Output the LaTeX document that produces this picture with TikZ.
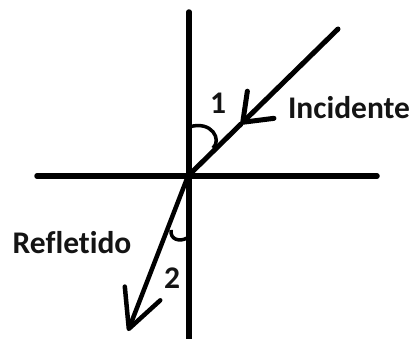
\documentclass[tikz,border=0pt]{standalone}
\usepackage{fontspec}
\setmainfont[Ligatures=NoCommon]{Carlito}
\usetikzlibrary{arrows.meta}
\definecolor{rayink}{HTML}{000000}
\definecolor{lbltext}{HTML}{141414}
\tikzset{
  refline/.style={draw=rayink, line width=5.5pt, line cap=round},
  ray/.style={draw=rayink, line width=5pt, line cap=round},
  angarc/.style={draw=rayink, line width=3.5pt},
  lbl/.style={font=\fontsize{31.5}{36}\selectfont\bfseries, text=lbltext, inner sep=0pt},
}
\begin{document}
\begin{tikzpicture}[x=1pt,y=1pt]
\useasboundingbox (0,0) rectangle (413,338);

% mirror normal and surface
\coordinate (O) at (188,162);
\coordinate (top) at (189,326);
\coordinate (bot) at (189,-6);
\coordinate (west) at (37,162);
\coordinate (east) at (377,162);
\draw[refline] (top) -- (bot);
\draw[refline] (west) -- (east);

% incident ray, arrow part way
\coordinate (src) at (338,309);
\coordinate (hitI) at (241,214);
\draw[ray,-{Straight Barb[round,length=25pt,width=38pt]}] (src) -- (hitI);
\draw[ray] (hitI) -- (O);

% reflected ray
\coordinate (dst) at (128,7);
\draw[ray,line width=4.5pt,-{Straight Barb[round,length=38pt,width=38pt]}] (O) -- (dst);

% angle marks
\draw[angarc] (189,211) .. controls (212,218) and (222,198) .. (213,190);
\draw[angarc] (171,108) .. controls (170,98) and (180,96) .. (187,100);

% labels
\node[lbl] (ang1) at (218,235) {1};
\node[lbl] (ang2) at (172,60) {2};
\node[lbl] (inc) at (349,230) {Incidente};
\node[lbl] (refl) at (72,95) {Refletido};
\end{tikzpicture}
\end{document}
